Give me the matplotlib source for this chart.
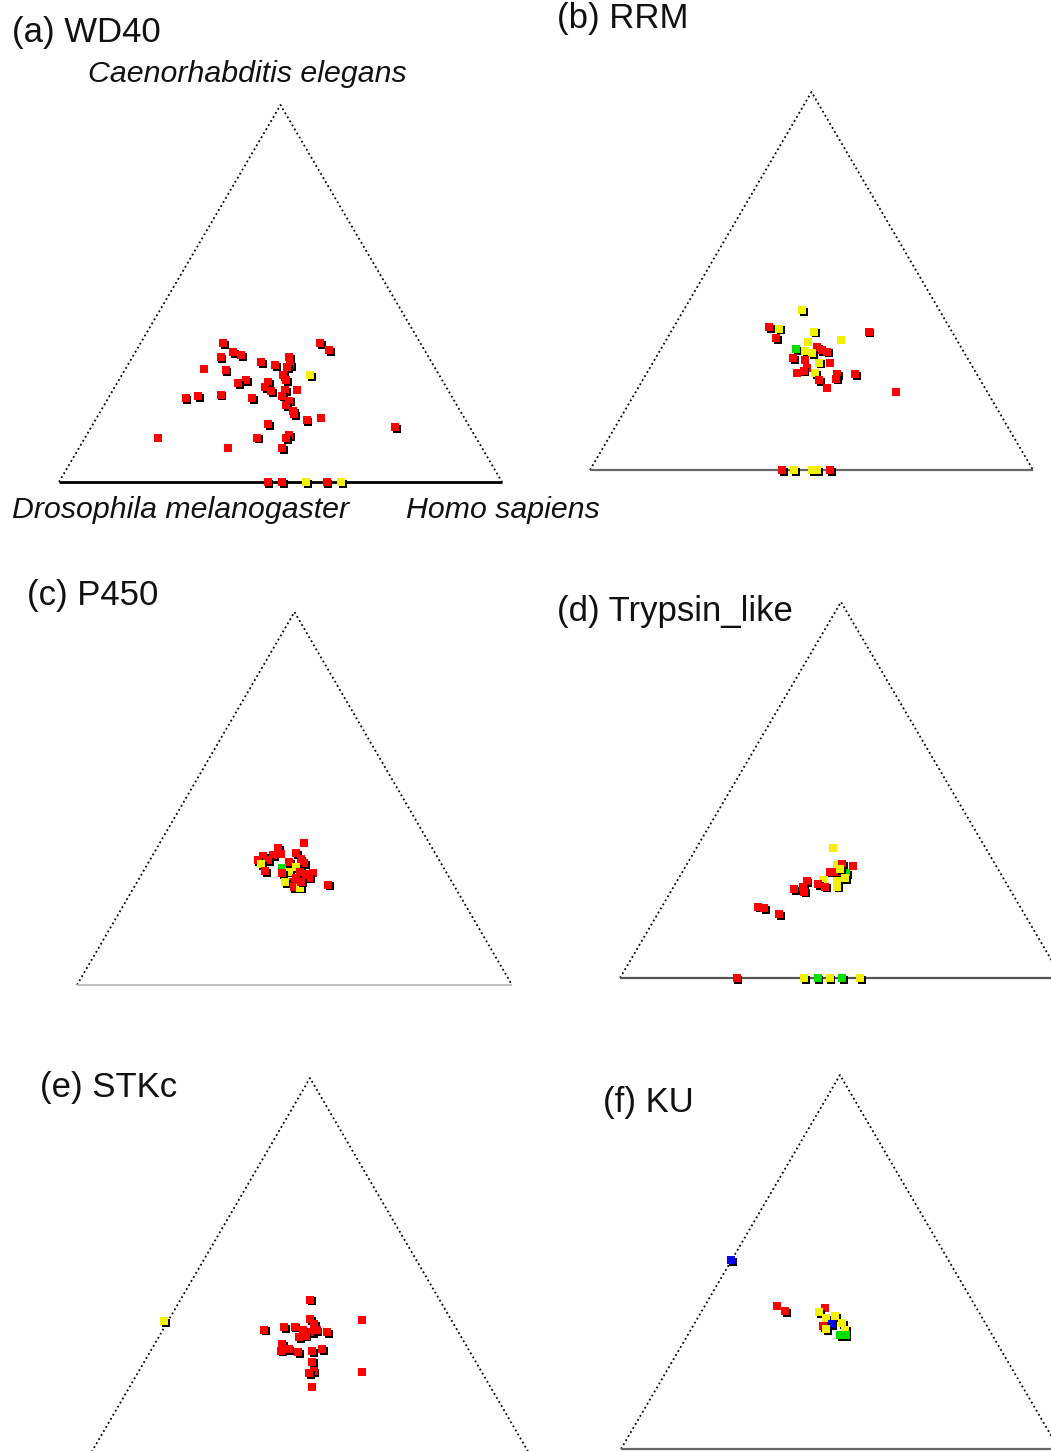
import matplotlib
matplotlib.use("Agg")
import matplotlib.pyplot as plt
import matplotlib.transforms as mtransforms

plt.rcParams["font.family"] = ["Liberation Sans", "DejaVu Sans"]

W_PX, H_PX = 1051, 1451
DPI = 100

COLORS = {"r": "#ff0000", "y": "#f2f200", "g": "#00e000", "b": "#0000ee"}

# positions inside each triangle: u = along the base (left->right), v = height share (C. elegans)
# (a) WD40
WD40_U = [0.371, 0.393, 0.411, 0.365, 0.589, 0.610, 0.520, 0.457, 0.488, 0.327, 0.376, 0.521, 0.514, 0.567,
          0.505, 0.512, 0.422, 0.405, 0.472, 0.465, 0.478, 0.511, 0.537, 0.286, 0.314, 0.365, 0.435, 0.503,
          0.520, 0.512, 0.529, 0.531, 0.559, 0.592, 0.759, 0.472, 0.224, 0.448, 0.520, 0.512, 0.382, 0.503,
          0.471, 0.503, 0.558, 0.604, 0.636]
WD40_V = [0.368, 0.344, 0.337, 0.331, 0.369, 0.349, 0.331, 0.317, 0.311, 0.301, 0.296, 0.311, 0.304, 0.284,
          0.284, 0.270, 0.270, 0.263, 0.265, 0.252, 0.241, 0.243, 0.245, 0.223, 0.227, 0.232, 0.223, 0.229,
          0.216, 0.205, 0.189, 0.180, 0.164, 0.171, 0.145, 0.153, 0.117, 0.118, 0.124, 0.117, 0.090, 0.090,
          0, 0, 0, 0, 0]
WD40_C = "rrrrrrrrrrrrry" + "r" * 28 + "rryry"
WD40_S = "111111111011111111111101111111111011011101" + "11111"

# (b) RRM
RRM_U = [0.478, 0.404, 0.426, 0.506, 0.629, 0.420, 0.493, 0.567, 0.465, 0.512, 0.486, 0.501, 0.523, 0.535,
         0.459, 0.486, 0.518, 0.542, 0.489, 0.482, 0.467, 0.508, 0.557, 0.556, 0.599, 0.518, 0.536, 0.691,
         0.433, 0.461, 0.501, 0.512, 0.542]
RRM_V = [0.423, 0.379, 0.374, 0.366, 0.366, 0.348, 0.339, 0.345, 0.319, 0.326, 0.315, 0.310, 0.317, 0.313,
         0.295, 0.291, 0.284, 0.282, 0.269, 0.263, 0.256, 0.257, 0.254, 0.242, 0.254, 0.238, 0.216, 0.207,
         0, 0, 0, 0, 0]
RRM_C = "yryyrryygryyrrrryrrrryrrrrrr" + "ryyyr"
RRM_S = "1111110011111110100101111100" + "11111"

# (c) P450
P450_U = [0.521, 0.463, 0.504, 0.427, 0.450, 0.468, 0.415, 0.440, 0.514, 0.522, 0.423, 0.487, 0.433, 0.471,
          0.487, 0.504, 0.471, 0.512, 0.523, 0.543, 0.533, 0.504, 0.496, 0.479, 0.498, 0.512, 0.577, 0.516]
P450_V = [0.380, 0.367, 0.353, 0.346, 0.348, 0.350, 0.335, 0.335, 0.338, 0.326, 0.324, 0.329, 0.306, 0.313,
          0.304, 0.317, 0.299, 0.304, 0.297, 0.299, 0.288, 0.286, 0.275, 0.275, 0.263, 0.261, 0.269, 0.277]
P450_C = "rrrrrrrrrryrrgyyrrrrrrryryrr"
P450_S = "0111101111111111111011111111"

# (d) Trypsin_like
TRYP_U = [0.481, 0.492, 0.502, 0.528, 0.475, 0.491, 0.511, 0.498, 0.459, 0.492, 0.492, 0.449, 0.464, 0.422,
          0.394, 0.415, 0.416, 0.313, 0.326, 0.360, 0.509,
          0.264, 0.417, 0.447, 0.474, 0.502, 0.544]
TRYP_V = [0.345, 0.301, 0.303, 0.298, 0.283, 0.283, 0.279, 0.290, 0.261, 0.259, 0.243, 0.250, 0.243, 0.257,
          0.236, 0.243, 0.230, 0.190, 0.186, 0.170, 0.266,
          0, 0, 0, 0, 0, 0]
TRYP_C = "yyrrrrgyyyyrrrrrrrrry" + "rygygy"
TRYP_S = "011011110111111111111" + "111111"

# (e) STKc
STKC_U = [0.500, 0.166, 0.500, 0.619, 0.396, 0.441, 0.465, 0.483, 0.509, 0.504, 0.539, 0.476, 0.490, 0.515,
          0.436, 0.434, 0.451, 0.473, 0.504, 0.527, 0.504, 0.508, 0.498, 0.619, 0.504]
STKC_V = [0.409, 0.352, 0.358, 0.355, 0.329, 0.335, 0.337, 0.328, 0.344, 0.322, 0.322, 0.310, 0.313, 0.328,
          0.291, 0.273, 0.278, 0.269, 0.271, 0.278, 0.244, 0.218, 0.213, 0.217, 0.177]
STKC_C = "ry" + "r" * 23
STKC_S = "1110111111111111111111100"

# (f) KU
KU_U = [0.252, 0.356, 0.374, 0.466, 0.453, 0.468, 0.489, 0.504, 0.481, 0.462, 0.469, 0.511, 0.500, 0.513]
KU_V = [0.505, 0.383, 0.368, 0.377, 0.365, 0.350, 0.356, 0.337, 0.335, 0.328, 0.321, 0.319, 0.305, 0.305]
KU_C = "brrryyyybryygg"
KU_S = "10101111111111"

# panel layout in pixels: (left, right, base_y, apex_y), base line style
panels = [
    ("(a) WD40", (12, 42), WD40_U, WD40_V, WD40_C, WD40_S, (59, 502, 482, 105), ("#000000", 2.0)),
    ("(b) RRM", (557, 28), RRM_U, RRM_V, RRM_C, RRM_S, (590, 1033, 470, 92), ("#666666", 1.6)),
    ("(c) P450", (27, 605), P450_U, P450_V, P450_C, P450_S, (77, 512, 985, 612), ("#bbbbbb", 1.3)),
    ("(d) Trypsin_like", (557, 621), TRYP_U, TRYP_V, TRYP_C, TRYP_S, (620, 1062, 978, 602), ("#555555", 1.6)),
    ("(e) STKc", (40, 1097), STKC_U, STKC_V, STKC_C, STKC_S, (91, 529, 1453, 1078), ("#555555", 1.6)),
    ("(f) KU", (603, 1112), KU_U, KU_V, KU_C, KU_S, (621, 1059, 1449, 1075), ("#666666", 1.6)),
]

fig = plt.figure(figsize=(W_PX / DPI, H_PX / DPI), dpi=DPI)

for title, (tx, ty), us, vs, cs, ss, (l, r, yb, ya), (bcol, blw) in panels:
    ax = fig.add_axes([l / W_PX, 1 - yb / H_PX, (r - l) / W_PX, (yb - ya) / H_PX])
    ax.set_xlim(0, 1)
    ax.set_ylim(0, 1)
    ax.axis("off")

    ax.plot([0, 0.5, 1], [0, 1, 0], color="black", linestyle=(0, (1, 1.6)),
            linewidth=1.3, clip_on=False)
    ax.plot([0, 1], [0, 0], color=bcol, linewidth=blw, clip_on=False, solid_capstyle="butt")

    shadow = mtransforms.offset_copy(ax.transData, fig=fig, x=1.8, y=-1.8, units="dots")
    for u, v, c, s in zip(us, vs, cs, ss):
        if s == "1":
            ax.plot(u, v, marker="s", markersize=5.7, color="black", markeredgewidth=0,
                    linestyle="none", transform=shadow, clip_on=False)
        ax.plot(u, v, marker="s", markersize=5.7, color=COLORS[c], markeredgewidth=0,
                linestyle="none", clip_on=False)

    fig.text(tx / W_PX, 1 - ty / H_PX, title, fontsize=25, va="baseline", ha="left", color="#111111")

# vertex labels (shown once, on panel a)
fig.text(88 / W_PX, 1 - 82 / H_PX, "Caenorhabditis elegans", fontsize=21.8, style="italic",
         va="baseline", ha="left", color="#111111")
fig.text(12 / W_PX, 1 - 518 / H_PX, "Drosophila melanogaster", fontsize=21.8, style="italic",
         va="baseline", ha="left", color="#111111")
fig.text(406 / W_PX, 1 - 518 / H_PX, "Homo sapiens", fontsize=21.8, style="italic",
         va="baseline", ha="left", color="#111111")

fig.savefig("out.png", dpi=DPI, facecolor="white")
